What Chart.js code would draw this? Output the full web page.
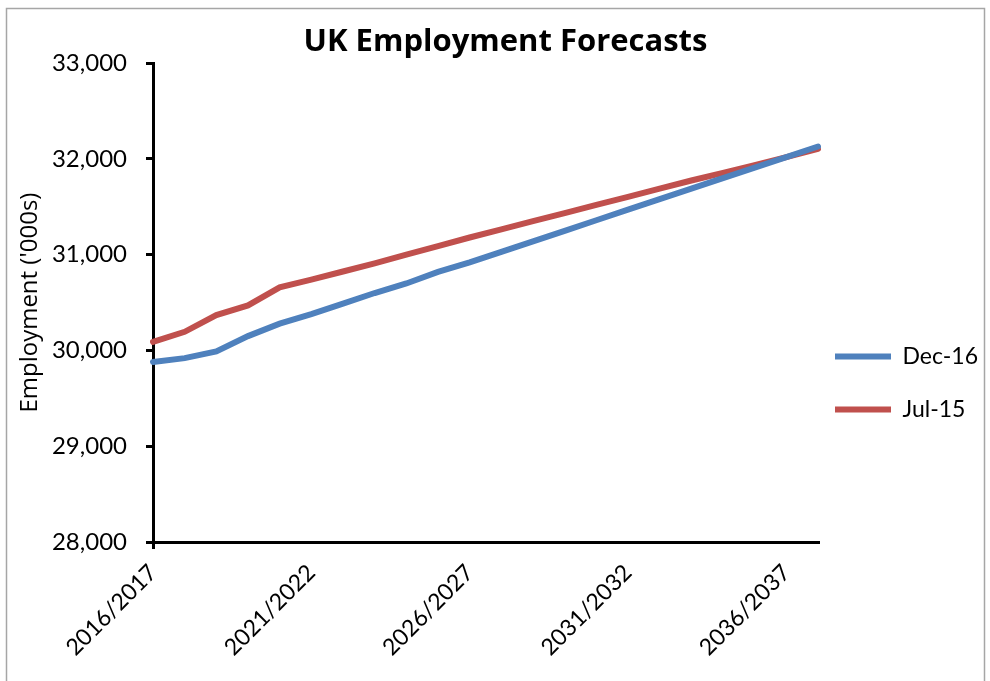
<!DOCTYPE html>
<html>
<head>
<meta charset="utf-8">
<script src="https://cdn.jsdelivr.net/npm/chart.js@4/dist/chart.umd.min.js"></script>
<style>
  html, body { margin: 0; padding: 0; background: #fff; }
  #wrap { position: relative; width: 990px; height: 681px; }
</style>
</head>
<body>
<div id="wrap"><canvas id="employmentChart" width="990" height="681"></canvas></div>
<script>
// financial years on the x axis
const years = ["2016/2017", "2017/2018", "2018/2019", "2019/2020", "2020/2021", "2021/2022",
    "2022/2023", "2023/2024", "2024/2025", "2025/2026", "2026/2027", "2027/2028",
    "2028/2029", "2029/2030", "2030/2031", "2031/2032", "2032/2033", "2033/2034",
    "2034/2035", "2035/2036", "2036/2037", "2037/2038"];

// employment forecasts ('000s)
const dec16 = [29880, 29920, 29990, 30150, 30280, 30380, 30490, 30600, 30700, 30820, 30920,
    31030, 31140, 31250, 31360, 31470, 31580, 31690, 31800, 31910, 32020, 32130];
const jul15 = [30090, 30195, 30370, 30470, 30660, 30740, 30825, 30910, 31000, 31090, 31180,
    31265, 31350, 31435, 31520, 31605, 31690, 31775, 31855, 31935, 32020, 32105];

const FONT = "Lato, 'Open Sans', sans-serif";

// grey frame round the whole chart, like the spreadsheet chart area
const framePlugin = {
    id: 'frame',
    beforeDraw(chart) {
        const c = chart.ctx;
        c.save();
        c.fillStyle = '#fff';
        c.fillRect(0, 0, chart.width, chart.height);
        c.strokeStyle = '#a6a6a6';
        c.lineWidth = 1.5;
        c.strokeRect(6.5, 8.5, 978, 700);
        c.restore();
    },
    afterLayout(chart) {
        // nudge legend to where the original one sits
        chart.legend.top += 34;
        chart.legend.bottom += 34;
        chart.legend.left -= 13;
        chart.legend.right -= 13;
    }
};

const ctx = document.getElementById('employmentChart').getContext('2d');
const employmentChart = new Chart(ctx, {
    type: 'line',
    data: {
        labels: years,
        datasets: [
            {
                label: 'Dec-16',
                data: dec16,
                borderColor: '#4F81BD',
                backgroundColor: '#4F81BD',
                borderWidth: 6,
                borderCapStyle: 'round',
                pointRadius: 0,
                tension: 0
            },
            {
                label: 'Jul-15',
                data: jul15,
                borderColor: '#C0504D',
                backgroundColor: '#C0504D',
                borderWidth: 6,
                borderCapStyle: 'round',
                pointRadius: 0,
                tension: 0
            }
        ]
    },
    options: {
        responsive: false,
        animation: false,
        layout: { padding: { left: 10, right: -11, top: 17, bottom: 0 } },
        plugins: {
            title: {
                display: true,
                text: 'UK Employment Forecasts',
                color: '#000',
                font: { family: "'Open Sans', Lato, sans-serif", size: 31, weight: 'bold' },
                padding: { top: 7, bottom: 2 }
            },
            legend: {
                position: 'right',
                labels: {
                    color: '#000',
                    font: { family: FONT, size: 23 },
                    usePointStyle: true,
                    pointStyle: 'line',
                    pointStyleWidth: 56,
                    padding: 30
                }
            },
            tooltip: { enabled: false }
        },
        scales: {
            x: {
                offset: false,
                border: { color: '#000', width: 3 },
                grid: {
                    drawOnChartArea: false,
                    drawTicks: true,
                    tickLength: 7,
                    lineWidth: 3,
                    color: (c) => (c.index % 5 === 0 ? '#000' : 'rgba(0,0,0,0)')
                },
                ticks: {
                    autoSkip: false,
                    minRotation: 45,
                    maxRotation: 45,
                    padding: 10,
                    color: '#000',
                    font: { family: FONT, size: 23 },
                    callback: function (value, index) {
                        return index % 5 === 0 ? this.getLabelForValue(value) : null;
                    }
                },
                afterFit(scale) { scale.height = 139; }
            },
            y: {
                min: 28000,
                max: 33000,
                border: { color: '#000', width: 3 },
                grid: {
                    drawOnChartArea: false,
                    drawTicks: true,
                    tickLength: 7,
                    lineWidth: 3,
                    color: '#000'
                },
                ticks: {
                    stepSize: 1000,
                    color: '#000',
                    padding: 19,
                    font: { family: FONT, size: 24 },
                    callback: (v) => v.toLocaleString('en-US')
                },
                title: {
                    display: true,
                    text: "Employment ('000s)",
                    color: '#000',
                    font: { family: "'Open Sans', Lato, sans-serif", size: 24 },
                    padding: { top: 6, bottom: 4 }
                },
                afterFit(scale) { scale.width = 143; }
            }
        }
    },
    plugins: [framePlugin]
});
</script>
</body>
</html>
